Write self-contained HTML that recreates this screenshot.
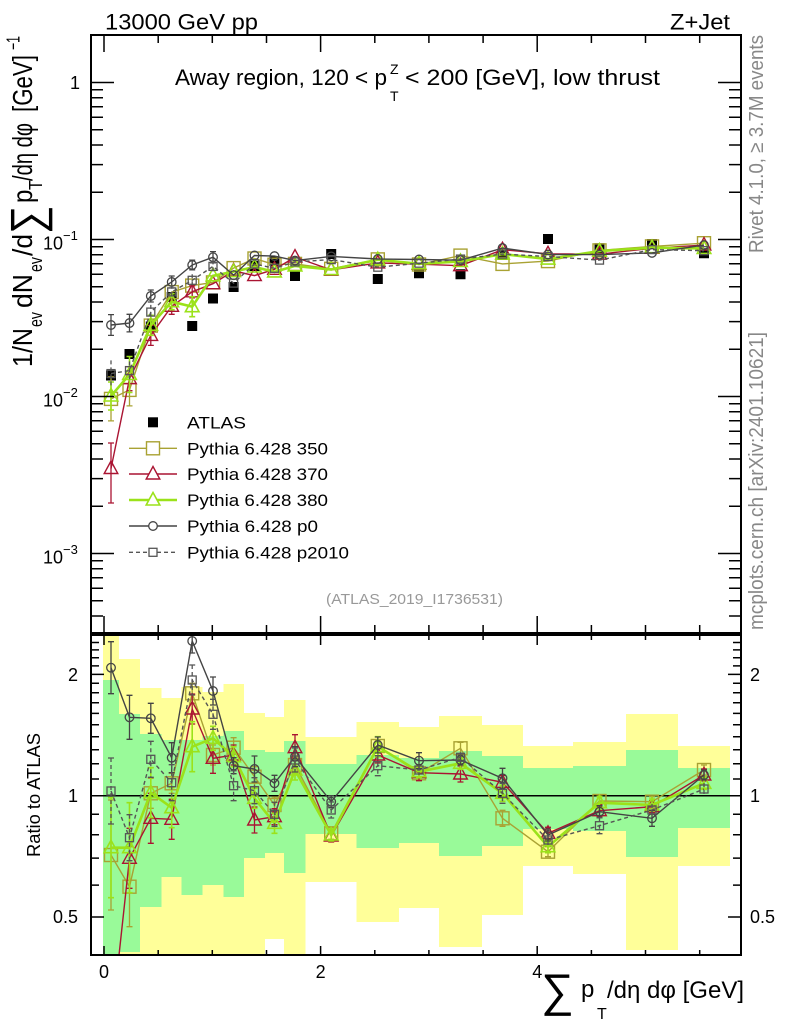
<!DOCTYPE html>
<html>
<head>
<meta charset="utf-8">
<style>
html,body{margin:0;padding:0;background:#fff;}
svg{display:block;}
text{font-family:"Liberation Sans",Arial,sans-serif;}
</style>
</head>
<body>
<svg width="786" height="1024" viewBox="0 0 786 1024" xmlns="http://www.w3.org/2000/svg">
<defs>
<clipPath id="cm"><rect x="92" y="36" width="648" height="596"/></clipPath>
<clipPath id="cr"><rect x="92" y="636" width="648" height="318"/></clipPath>
<marker id="mS350" viewBox="-10 -10 20 20" markerWidth="20" markerHeight="20" refX="0" refY="0" markerUnits="userSpaceOnUse"><rect x="-6.5" y="-6.5" width="13" height="13" fill="none" stroke="#a9a233" stroke-width="1.4"/></marker>
<marker id="mT370" viewBox="-10 -10 20 20" markerWidth="20" markerHeight="20" refX="0" refY="0" markerUnits="userSpaceOnUse"><path d="M0 -7.5L6.8 5L-6.8 5Z" fill="none" stroke="#aa1432" stroke-width="1.4"/></marker>
<marker id="mT380" viewBox="-10 -10 20 20" markerWidth="20" markerHeight="20" refX="0" refY="0" markerUnits="userSpaceOnUse"><path d="M0 -7.5L6.8 5L-6.8 5Z" fill="none" stroke="#9be21a" stroke-width="1.6"/></marker>
<marker id="mC0" viewBox="-10 -10 20 20" markerWidth="20" markerHeight="20" refX="0" refY="0" markerUnits="userSpaceOnUse"><circle cx="0" cy="0" r="4.3" fill="none" stroke="#444" stroke-width="1.3"/></marker>
<marker id="mS2010" viewBox="-10 -10 20 20" markerWidth="20" markerHeight="20" refX="0" refY="0" markerUnits="userSpaceOnUse"><rect x="-4" y="-4" width="8" height="8" fill="none" stroke="#555" stroke-width="1.3" stroke-dasharray="none"/></marker>
</defs>

<!-- ===== Top texts ===== -->
<text x="105" y="29.5" font-size="22" textLength="153" lengthAdjust="spacingAndGlyphs">13000 GeV pp</text>
<text x="670" y="29.5" font-size="22" textLength="60" lengthAdjust="spacingAndGlyphs">Z+Jet</text>

<!-- ===== MAIN PANEL ===== -->
<g clip-path="url(#cm)">
  <!-- ATLAS -->
  <path fill="#000" d="M106 370.5h10v10h-10z M124.5 349h10v10h-10z M145.8 321.5h10v10h-10z M166.7 292h10v10h-10z M187.2 321h10v10h-10z M208 293.5h10v10h-10z M228.6 282h10v10h-10z M249.5 261h10v10h-10z M269.5 256h10v10h-10z M290 271h10v10h-10z M326.2 249h10v10h-10z M372.8 274h10v10h-10z M414 268.3h10v10h-10z M455.5 269.3h10v10h-10z M497.5 250h10v10h-10z M543 234h10v10h-10z M594.5 243.3h10v10h-10z M647 239h10v10h-10z M699 248.3h10v10h-10z"/>

  <!-- 350 -->
  <path fill="none" stroke="#a9a233" stroke-width="1.3" d="M111 376.9v44m-3 0h6m0-44h-6 M129.5 373.9v32m-3 0h6m0-32h-6 M150.8 319.6v12m-3 0h6m0-12h-6"/>
  <polyline fill="none" stroke="#a9a233" stroke-width="1.4" marker-start="url(#mS350)" marker-mid="url(#mS350)" marker-end="url(#mS350)" points="111,398.9 129.5,389.9 150.8,325.6 171.7,292.1 192.2,285.6 213,282.4 233.6,268.1 254.5,258.5 274.5,264.7 295,263.9 331.2,268.8 377.8,259.4 419,264.5 460.5,255.6 502.5,263.9 548,261.1 599.5,250.4 652,246.4 704,243.2"/>

  <!-- 370 -->
  <path fill="none" stroke="#aa1432" stroke-width="1.3" d="M111 443v60m-3 0h6m0-60h-6 M129.5 366.7v24m-3 0h6m0-24h-6 M150.8 325.4v20m-3 0h6m0-20h-6 M171.7 298.3v16m-3 0h6m0-16h-6 M192.2 285.8v12m-3 0h6m0-12h-6"/>
  <polyline fill="none" stroke="#aa1432" stroke-width="1.4" marker-start="url(#mT370)" marker-mid="url(#mT370)" marker-end="url(#mT370)" points="111,468.5 129.5,378.7 150.8,335.4 171.7,306.3 192.2,291.8 213,283.7 233.6,270.9 254.5,275.6 274.5,269.3 295,257.1 331.2,269.9 377.8,262.9 419,264.2 460.5,265.7 502.5,249.7 548,253.8 599.5,254.2 652,248.3 704,245.1"/>

  <!-- 380 -->
  <path fill="none" stroke="#9be21a" stroke-width="1.6" d="M111 382v28m-3 0h6m0-28h-6 M129.5 356.5v36m-3 0h6m0-36h-6 M150.8 315.3v20m-3 0h6m0-20h-6 M171.7 293.7v16m-3 0h6m0-16h-6 M192.2 296.7v20m-3 0h6m0-20h-6"/>
  <polyline fill="none" stroke="#9be21a" stroke-width="2.6" marker-start="url(#mT380)" marker-mid="url(#mT380)" marker-end="url(#mT380)" points="111,396 129.5,374.5 150.8,325.3 171.7,301.7 192.2,306.7 213,275.8 233.6,271.6 254.5,267 274.5,271.9 295,265.9 331.2,269.5 377.8,259.7 419,263.8 460.5,261.5 502.5,254.1 548,259.1 599.5,251.1 652,247.7 704,248.4"/>

  <!-- p0 -->
  <path fill="none" stroke="#444" stroke-width="1.3" d="M111 314.6v20.8m-3 0h6m0-20.8h-6 M129.5 314.3v17.6m-3 0h6m0-17.6h-6 M150.8 290v12m-3 0h6m0-12h-6 M171.7 276v12m-3 0h6m0-12h-6 M192.2 260.2v9.6m-3 0h6m0-9.6h-6 M213 251.6v11.2m-3 0h6m0-11.2h-6"/>
  <polyline fill="none" stroke="#444" stroke-width="1.4" marker-start="url(#mC0)" marker-mid="url(#mC0)" marker-end="url(#mC0)" points="111,325 129.5,323.1 150.8,296 171.7,282 192.2,265 213,257.2 233.6,275.2 254.5,255.5 274.5,256.1 295,260.6 331.2,256.4 377.8,259 419,259.5 460.5,260.2 502.5,248.1 548,254.5 599.5,254.6 652,252.9 704,245.1"/>

  <!-- p2010 -->
  <path fill="none" stroke="#555" stroke-width="1.3" stroke-dasharray="4,3" d="M111 360.4v26.4 M129.5 361.4v18.4 M150.8 304.9v14.4 M171.7 284.7v14.4 M192.2 274.3v12 M213 260.4v12"/>
  <polyline fill="none" stroke="#555" stroke-width="1.4" stroke-dasharray="4,3" marker-start="url(#mS2010)" marker-mid="url(#mS2010)" marker-end="url(#mS2010)" points="111,373.6 129.5,370.6 150.8,312.1 171.7,291.9 192.2,280.3 213,266.4 233.6,283.1 254.5,264 274.5,268.3 295,261.9 331.2,259.6 377.8,267.2 419,263.2 460.5,259.1 502.5,254.1 548,256.5 599.5,260.1 652,249.6 704,250.7"/>
</g>

<!-- Legend -->
<rect x="148" y="417.3" width="10" height="10" fill="#000"/>
<text x="187" y="428.5" font-size="17" textLength="59" lengthAdjust="spacingAndGlyphs">ATLAS</text>
<path d="M129 448.3H177" stroke="#a9a233" stroke-width="1.4"/>
<rect x="146.5" y="441.8" width="13" height="13" fill="#fff" stroke="#a9a233" stroke-width="1.4"/>
<text x="187" y="454.5" font-size="17" textLength="141" lengthAdjust="spacingAndGlyphs">Pythia 6.428 350</text>
<path d="M129 474H177" stroke="#aa1432" stroke-width="1.4"/>
<path d="M153 466.5L159.8 479L146.2 479Z" fill="#fff" stroke="#aa1432" stroke-width="1.4"/>
<text x="187" y="480" font-size="17" textLength="141" lengthAdjust="spacingAndGlyphs">Pythia 6.428 370</text>
<path d="M129 500H177" stroke="#9be21a" stroke-width="2.6"/>
<path d="M153 492.5L159.8 505L146.2 505Z" fill="#fff" stroke="#9be21a" stroke-width="1.6"/>
<text x="187" y="506" font-size="17" textLength="141" lengthAdjust="spacingAndGlyphs">Pythia 6.428 380</text>
<path d="M129 526H177" stroke="#444" stroke-width="1.4"/>
<circle cx="153" cy="526" r="4.3" fill="#fff" stroke="#444" stroke-width="1.3"/>
<text x="187" y="532" font-size="17" textLength="131" lengthAdjust="spacingAndGlyphs">Pythia 6.428 p0</text>
<path d="M129 552.3H177" stroke="#555" stroke-width="1.4" stroke-dasharray="4,3"/>
<rect x="149" y="548.3" width="8" height="8" fill="#fff" stroke="#555" stroke-width="1.3"/>
<text x="187" y="558.5" font-size="17" textLength="162" lengthAdjust="spacingAndGlyphs">Pythia 6.428 p2010</text>

<!-- Title inside plot -->
<text x="175" y="85" font-size="22" textLength="212" lengthAdjust="spacingAndGlyphs">Away region, 120 &lt; p</text>
<text x="390" y="74" font-size="14">Z</text>
<text x="390" y="101" font-size="14">T</text>
<text x="405" y="85" font-size="22" textLength="255" lengthAdjust="spacingAndGlyphs">&lt; 200 [GeV], low thrust</text>

<text x="326" y="604" font-size="14.5" fill="#999" textLength="177" lengthAdjust="spacingAndGlyphs">(ATLAS_2019_I1736531)</text>

<!-- Main frame & ticks -->
<rect x="91" y="35" width="650" height="598" fill="none" stroke="#000" stroke-width="2"/>
<path fill="none" stroke="#000" stroke-width="1.5" d="
M104 35v17 M320.6 35v17 M537.2 35v17
M158.2 35v8 M212.3 35v8 M266.5 35v8 M374.8 35v8 M428.9 35v8 M483.1 35v8 M591.4 35v8 M645.5 35v8 M699.7 35v8
M104 633v-17 M320.6 633v-17 M537.2 633v-17
M158.2 633v-8 M212.3 633v-8 M266.5 633v-8 M374.8 633v-8 M428.9 633v-8 M483.1 633v-8 M591.4 633v-8 M645.5 633v-8 M699.7 633v-8
M91 82.5h23 M91 239.5h23 M91 396.5h23 M91 553.5h23
M741 82.5h-23 M741 239.5h-23 M741 396.5h-23 M741 553.5h-23
M91 89.7h12 M91 97.7h12 M91 106.8h12 M91 117.3h12 M91 129.8h12 M91 145h12 M91 164.6h12 M91 192.2h12
M91 246.7h12 M91 254.7h12 M91 263.8h12 M91 274.3h12 M91 286.8h12 M91 302h12 M91 321.6h12 M91 349.2h12
M91 403.7h12 M91 411.7h12 M91 420.8h12 M91 431.3h12 M91 443.8h12 M91 459h12 M91 478.6h12 M91 506.2h12
M91 560.7h12 M91 568.7h12 M91 577.8h12 M91 588.3h12 M91 600.8h12 M91 616h12
M741 89.7h-12 M741 97.7h-12 M741 106.8h-12 M741 117.3h-12 M741 129.8h-12 M741 145h-12 M741 164.6h-12 M741 192.2h-12
M741 246.7h-12 M741 254.7h-12 M741 263.8h-12 M741 274.3h-12 M741 286.8h-12 M741 302h-12 M741 321.6h-12 M741 349.2h-12
M741 403.7h-12 M741 411.7h-12 M741 420.8h-12 M741 431.3h-12 M741 443.8h-12 M741 459h-12 M741 478.6h-12 M741 506.2h-12
M741 560.7h-12 M741 568.7h-12 M741 577.8h-12 M741 588.3h-12 M741 600.8h-12 M741 616h-12"/>

<!-- Main y tick labels -->
<text x="80" y="89" font-size="18" text-anchor="end">1</text>
<text x="43" y="249.5" font-size="18">10</text><text x="63" y="240" font-size="13">−1</text>
<text x="43" y="406.5" font-size="18">10</text><text x="63" y="397" font-size="13">−2</text>
<text x="43" y="563.5" font-size="18">10</text><text x="63" y="554" font-size="13">−3</text>

<!-- Y axis label (rotated) -->
<g transform="translate(32,0) scale(1.15,1) rotate(-90)">
  <text x="-367" y="0" font-size="24" textLength="39" lengthAdjust="spacingAndGlyphs">1/N</text>
  <text x="-327" y="8.5" font-size="16" textLength="15" lengthAdjust="spacingAndGlyphs">ev</text>
  <text x="-308" y="0" font-size="24" textLength="34" lengthAdjust="spacingAndGlyphs">dN</text>
  <text x="-272" y="8.5" font-size="16" textLength="15" lengthAdjust="spacingAndGlyphs">ev</text>
  <text x="-256" y="0" font-size="24" textLength="22" lengthAdjust="spacingAndGlyphs">/d</text>
  <text x="-234" y="9" font-size="40">∑</text>
  <text x="-203" y="0" font-size="24">p</text>
  <text x="-190" y="8.5" font-size="16">T</text>
  <text x="-181" y="0" font-size="24" textLength="58" lengthAdjust="spacingAndGlyphs">/dη dφ</text>
  <text x="-112" y="0" font-size="24" textLength="57" lengthAdjust="spacingAndGlyphs">[GeV]</text>
  <text x="-50" y="-11" font-size="16" textLength="14" lengthAdjust="spacingAndGlyphs">−1</text>
</g>

<!-- Right side gray texts -->
<g transform="translate(763,0) scale(1.15,1) rotate(-90)" fill="#888">
  <text x="-253" y="0" font-size="18" textLength="218" lengthAdjust="spacingAndGlyphs">Rivet 4.1.0, ≥ 3.7M events</text>
  <text x="-630" y="0" font-size="18" textLength="298" lengthAdjust="spacingAndGlyphs">mcplots.cern.ch [arXiv:2401.10621]</text>
</g>

<!-- ===== RATIO PANEL ===== -->
<g clip-path="url(#cr)">
  <path fill="#ffff99" shape-rendering="crispEdges" d="M103 635h16v320h-16z M119 659h21v296h-21z M140 688h21.7v267h-21.7z M161.7 698h20v257h-20z M181.7 687h21v268h-21z M202.7 692h20.6v263h-20.6z M223.3 684h20.7v271h-20.7z M244 713h21v242h-21z M265 717h19v222h-19z M284 700h21.7v255h-21.7z M305.7 737h51v145h-51z M356.7 722h42.3v200h-42.3z M399 727h40v181h-40z M439 716h43v231h-43z M482 725h41v190h-41z M523 746h50v120h-50z M573 742h53v132h-53z M626 714h52v236h-52z M678 746h52v120h-52z"/>
  <path fill="#99fa99" shape-rendering="crispEdges" d="M103 680h16v275h-16z M119 714h21v238h-21z M140 734h21.7v173h-21.7z M161.7 740h20v137h-20z M181.7 740h21v155h-21z M202.7 736h20.6v149h-20.6z M223.3 731h20.7v166h-20.7z M244 750h21v108h-21z M265 752h19v101h-19z M284 741h21.7v132h-21.7z M305.7 764h51v70h-51z M356.7 755h42.3v93h-42.3z M399 758h40v85h-40z M439 751h43v105h-43z M482 756h41v90h-41z M523 768h50v61h-50z M573 766h53v65h-53z M626 750h52v107h-52z M678 768h52v60h-52z"/>
  <path d="M91 795.7H741" stroke="#000" stroke-width="1.5"/>

  <!-- 350 -->
  <path fill="none" stroke="#a9a233" stroke-width="1.3" d="M111 800v110m-3 0h6m0-110h-6 M129.5 846.7v80m-3 0h6m0-80h-6 M150.8 778.3v30m-3 0h6m0-30h-6 M171.7 773.3v20m-3 0h6m0-20h-6 M192.2 683.3v20m-3 0h6m0-20h-6 M213 745v20m-3 0h6m0-20h-6 M233.6 737.7v20m-3 0h6m0-20h-6 M254.5 766.7v20m-3 0h6m0-20h-6 M274.5 797v16m-3 0h6m0-16h-6 M295 757v16m-3 0h6m0-16h-6 M331.2 827.3v12m-3 0h6m0-12h-6 M377.8 740v12m-3 0h6m0-12h-6 M419 767.3v12m-3 0h6m0-12h-6 M460.5 742.3v12m-3 0h6m0-12h-6 M502.5 810.3v16m-3 0h6m0-16h-6 M548 846.7v10m-3 0h6m0-10h-6 M599.5 795v12m-3 0h6m0-12h-6 M652 796.7v10m-3 0h6m0-10h-6 M704 765v10m-3 0h6m0-10h-6"/>
  <polyline fill="none" stroke="#a9a233" stroke-width="1.4" marker-start="url(#mS350)" marker-mid="url(#mS350)" marker-end="url(#mS350)" points="111,855 129.5,886.7 150.8,793.3 171.7,783.3 192.2,693.3 213,755 233.6,747.7 254.5,776.7 274.5,805 295,765 331.2,833.3 377.8,746 419,773.3 460.5,748.3 502.5,818.3 548,851.7 599.5,801 652,801.7 704,770"/>

  <!-- 370 -->
  <path fill="none" stroke="#aa1432" stroke-width="1.3" d="M129.5 828.3v60m-3 0h6m0-60h-6 M150.8 793.3v50m-3 0h6m0-50h-6 M171.7 799.3v40m-3 0h6m0-40h-6 M192.2 694v30m-3 0h6m0-30h-6 M213 743.3v30m-3 0h6m0-30h-6 M233.6 745v20m-3 0h6m0-20h-6 M254.5 807v26m-3 0h6m0-26h-6 M274.5 808.7v16m-3 0h6m0-16h-6 M295 734.7v26m-3 0h6m0-26h-6 M331.2 830v12m-3 0h6m0-12h-6 M377.8 747v16m-3 0h6m0-16h-6 M419 764.7v16m-3 0h6m0-16h-6 M460.5 766v16m-3 0h6m0-16h-6 M502.5 775.3v14m-3 0h6m0-14h-6 M548 827.3v12m-3 0h6m0-12h-6 M599.5 804.7v12m-3 0h6m0-12h-6 M652 800.7v12m-3 0h6m0-12h-6 M704 769v12m-3 0h6m0-12h-6"/>
  <polyline fill="none" stroke="#aa1432" stroke-width="1.4" marker-start="url(#mT370)" marker-mid="url(#mT370)" marker-end="url(#mT370)" points="111,1029 129.5,858.3 150.8,818.3 171.7,819.3 192.2,709 213,758.3 233.6,755 254.5,820 274.5,816.7 295,747.7 331.2,836 377.8,755 419,772.7 460.5,774 502.5,782.3 548,833.3 599.5,810.7 652,806.7 704,775"/>

  <!-- 380 -->
  <path fill="none" stroke="#9be21a" stroke-width="1.6" d="M111 797.7v100m-3 0h6m0-100h-6 M129.5 802.7v90m-3 0h6m0-90h-6 M150.8 767.7v50m-3 0h6m0-50h-6 M171.7 787.7v40m-3 0h6m0-40h-6 M192.2 721.7v50m-3 0h6m0-50h-6 M213 726.3v24m-3 0h6m0-24h-6 M233.6 746.7v20m-3 0h6m0-20h-6 M254.5 788.3v20m-3 0h6m0-20h-6 M274.5 813.3v20m-3 0h6m0-20h-6 M295 760v20m-3 0h6m0-20h-6 M331.2 829v12m-3 0h6m0-12h-6 M377.8 736.7v20m-3 0h6m0-20h-6 M419 765.7v12m-3 0h6m0-12h-6 M460.5 757.3v12m-3 0h6m0-12h-6 M502.5 785.3v16m-3 0h6m0-16h-6 M548 840.7v12m-3 0h6m0-12h-6 M599.5 796.7v12m-3 0h6m0-12h-6 M652 799v12m-3 0h6m0-12h-6 M704 777.3v12m-3 0h6m0-12h-6"/>
  <polyline fill="none" stroke="#9be21a" stroke-width="2.6" marker-start="url(#mT380)" marker-mid="url(#mT380)" marker-end="url(#mT380)" points="111,847.7 129.5,847.7 150.8,792.7 171.7,807.7 192.2,746.7 213,738.3 233.6,756.7 254.5,798.3 274.5,823.3 295,770 331.2,835 377.8,746.7 419,771.7 460.5,763.3 502.5,793.3 548,846.7 599.5,802.7 652,805 704,783.3"/>

  <!-- p0 -->
  <path fill="none" stroke="#444" stroke-width="1.3" d="M111 641.7v52m-3 0h6m0-52h-6 M129.5 695.3v44m-3 0h6m0-44h-6 M150.8 703.3v30m-3 0h6m0-30h-6 M171.7 742.7v30m-3 0h6m0-30h-6 M192.2 629v24m-3 0h6m0-24h-6 M213 677v28m-3 0h6m0-28h-6 M233.6 757.7v16m-3 0h6m0-16h-6 M254.5 756v26m-3 0h6m0-26h-6 M274.5 775.3v16m-3 0h6m0-16h-6 M295 746.7v20m-3 0h6m0-20h-6 M331.2 795.7v12m-3 0h6m0-12h-6 M377.8 737v16m-3 0h6m0-16h-6 M419 752.7v16m-3 0h6m0-16h-6 M460.5 755v10m-3 0h6m0-10h-6 M502.5 768.3v20m-3 0h6m0-20h-6 M548 829v12m-3 0h6m0-12h-6 M599.5 805.7v12m-3 0h6m0-12h-6 M652 810.3v16m-3 0h6m0-16h-6 M704 770v10m-3 0h6m0-10h-6"/>
  <polyline fill="none" stroke="#444" stroke-width="1.4" marker-start="url(#mC0)" marker-mid="url(#mC0)" marker-end="url(#mC0)" points="111,667.7 129.5,717.3 150.8,718.3 171.7,757.7 192.2,641 213,691 233.6,765.7 254.5,769 274.5,783.3 295,756.7 331.2,801.7 377.8,745 419,760.7 460.5,760 502.5,778.3 548,835 599.5,811.7 652,818.3 704,775"/>

  <!-- p2010 -->
  <path fill="none" stroke="#555" stroke-width="1.3" stroke-dasharray="4,3" d="M111 758v66 M129.5 814.7v46 M150.8 741.3v36 M171.7 764.7v36 M192.2 665v30 M213 699.3v30 M233.6 770.7v30 M254.5 777.7v26 M274.5 802.3v24 M295 748v24 M331.2 802v16 M377.8 755.7v20 M419 765v10 M460.5 752.3v10 M502.5 783.3v20 M548 834v12 M599.5 817.7v16 M652 804v12 M704 783v12"/>
  <path fill="none" stroke="#555" stroke-width="1.3" d="M108 758h6m-6 66h6 M126.5 814.7h6m-6 46h6 M147.8 741.3h6m-6 36h6 M168.7 764.7h6m-6 36h6 M189.2 665h6m-6 30h6 M210 699.3h6m-6 30h6 M230.6 770.7h6m-6 30h6 M251.5 777.7h6m-6 26h6 M271.5 802.3h6m-6 24h6 M292 748h6m-6 24h6 M328.2 802h6m-6 16h6 M374.8 755.7h6m-6 20h6 M499.5 783.3h6m-6 20h6 M596.5 817.7h6m-6 16h6"/>
  <polyline fill="none" stroke="#555" stroke-width="1.4" stroke-dasharray="4,3" marker-start="url(#mS2010)" marker-mid="url(#mS2010)" marker-end="url(#mS2010)" points="111,791 129.5,837.7 150.8,759.3 171.7,782.7 192.2,680 213,714.3 233.6,785.7 254.5,790.7 274.5,814.3 295,760 331.2,810 377.8,765.7 419,770 460.5,757.3 502.5,793.3 548,840 599.5,825.7 652,810 704,789"/>
</g>

<!-- Ratio frame & ticks -->
<rect x="91" y="635" width="650" height="320" fill="none" stroke="#000" stroke-width="2"/>
<path fill="none" stroke="#000" stroke-width="1.5" d="
M104 635v10 M320.6 635v10 M537.2 635v10
M158.2 635v5 M212.3 635v5 M266.5 635v5 M374.8 635v5 M428.9 635v5 M483.1 635v5 M591.4 635v5 M645.5 635v5 M699.7 635v5
M104 955v-9 M320.6 955v-9 M537.2 955v-9
M158.2 955v-5 M212.3 955v-5 M266.5 955v-5 M374.8 955v-5 M428.9 955v-5 M483.1 955v-5 M591.4 955v-5 M645.5 955v-5 M699.7 955v-5
M91 674.4h13 M91 795.7h13 M91 917h13
M741 674.4h-13 M741 795.7h-13 M741 917h-13
M91 642.5h8 M91 649.9h8 M91 657.7h8 M91 665.9h8 M91 683.3h8 M91 692.8h8 M91 702.8h8 M91 713.4h8 M91 724.7h8 M91 736.8h8 M91 749.8h8 M91 763.8h8 M91 779h8 M91 814.2h8 M91 834.8h8 M91 858.1h8 M91 885.1h8
M741 642.5h-8 M741 649.9h-8 M741 657.7h-8 M741 665.9h-8 M741 683.3h-8 M741 692.8h-8 M741 702.8h-8 M741 713.4h-8 M741 724.7h-8 M741 736.8h-8 M741 749.8h-8 M741 763.8h-8 M741 779h-8 M741 814.2h-8 M741 834.8h-8 M741 858.1h-8 M741 885.1h-8"/>

<!-- Ratio labels -->
<text x="78" y="681" font-size="18" text-anchor="end">2</text>
<text x="78" y="802" font-size="18" text-anchor="end">1</text>
<text x="78" y="923" font-size="18" text-anchor="end">0.5</text>
<text x="750" y="681" font-size="18">2</text>
<text x="750" y="802" font-size="18">1</text>
<text x="750" y="923" font-size="18">0.5</text>
<g transform="translate(40,795) scale(1.15,1) rotate(-90)">
  <text x="0" y="0" font-size="16" text-anchor="middle" textLength="124" lengthAdjust="spacingAndGlyphs">Ratio to ATLAS</text>
</g>

<!-- X tick labels -->
<text x="104" y="978" font-size="18" text-anchor="middle">0</text>
<text x="320.6" y="978" font-size="18" text-anchor="middle">2</text>
<text x="537.2" y="978" font-size="18" text-anchor="middle">4</text>

<!-- X axis label -->
<text x="541" y="1006" font-size="46">∑</text>
<text x="581" y="997" font-size="24">p</text>
<text x="597" y="1019" font-size="16">T</text>
<text x="607" y="998" font-size="24" textLength="137" lengthAdjust="spacingAndGlyphs">/dη dφ [GeV]</text>
</svg>
</body>
</html>
